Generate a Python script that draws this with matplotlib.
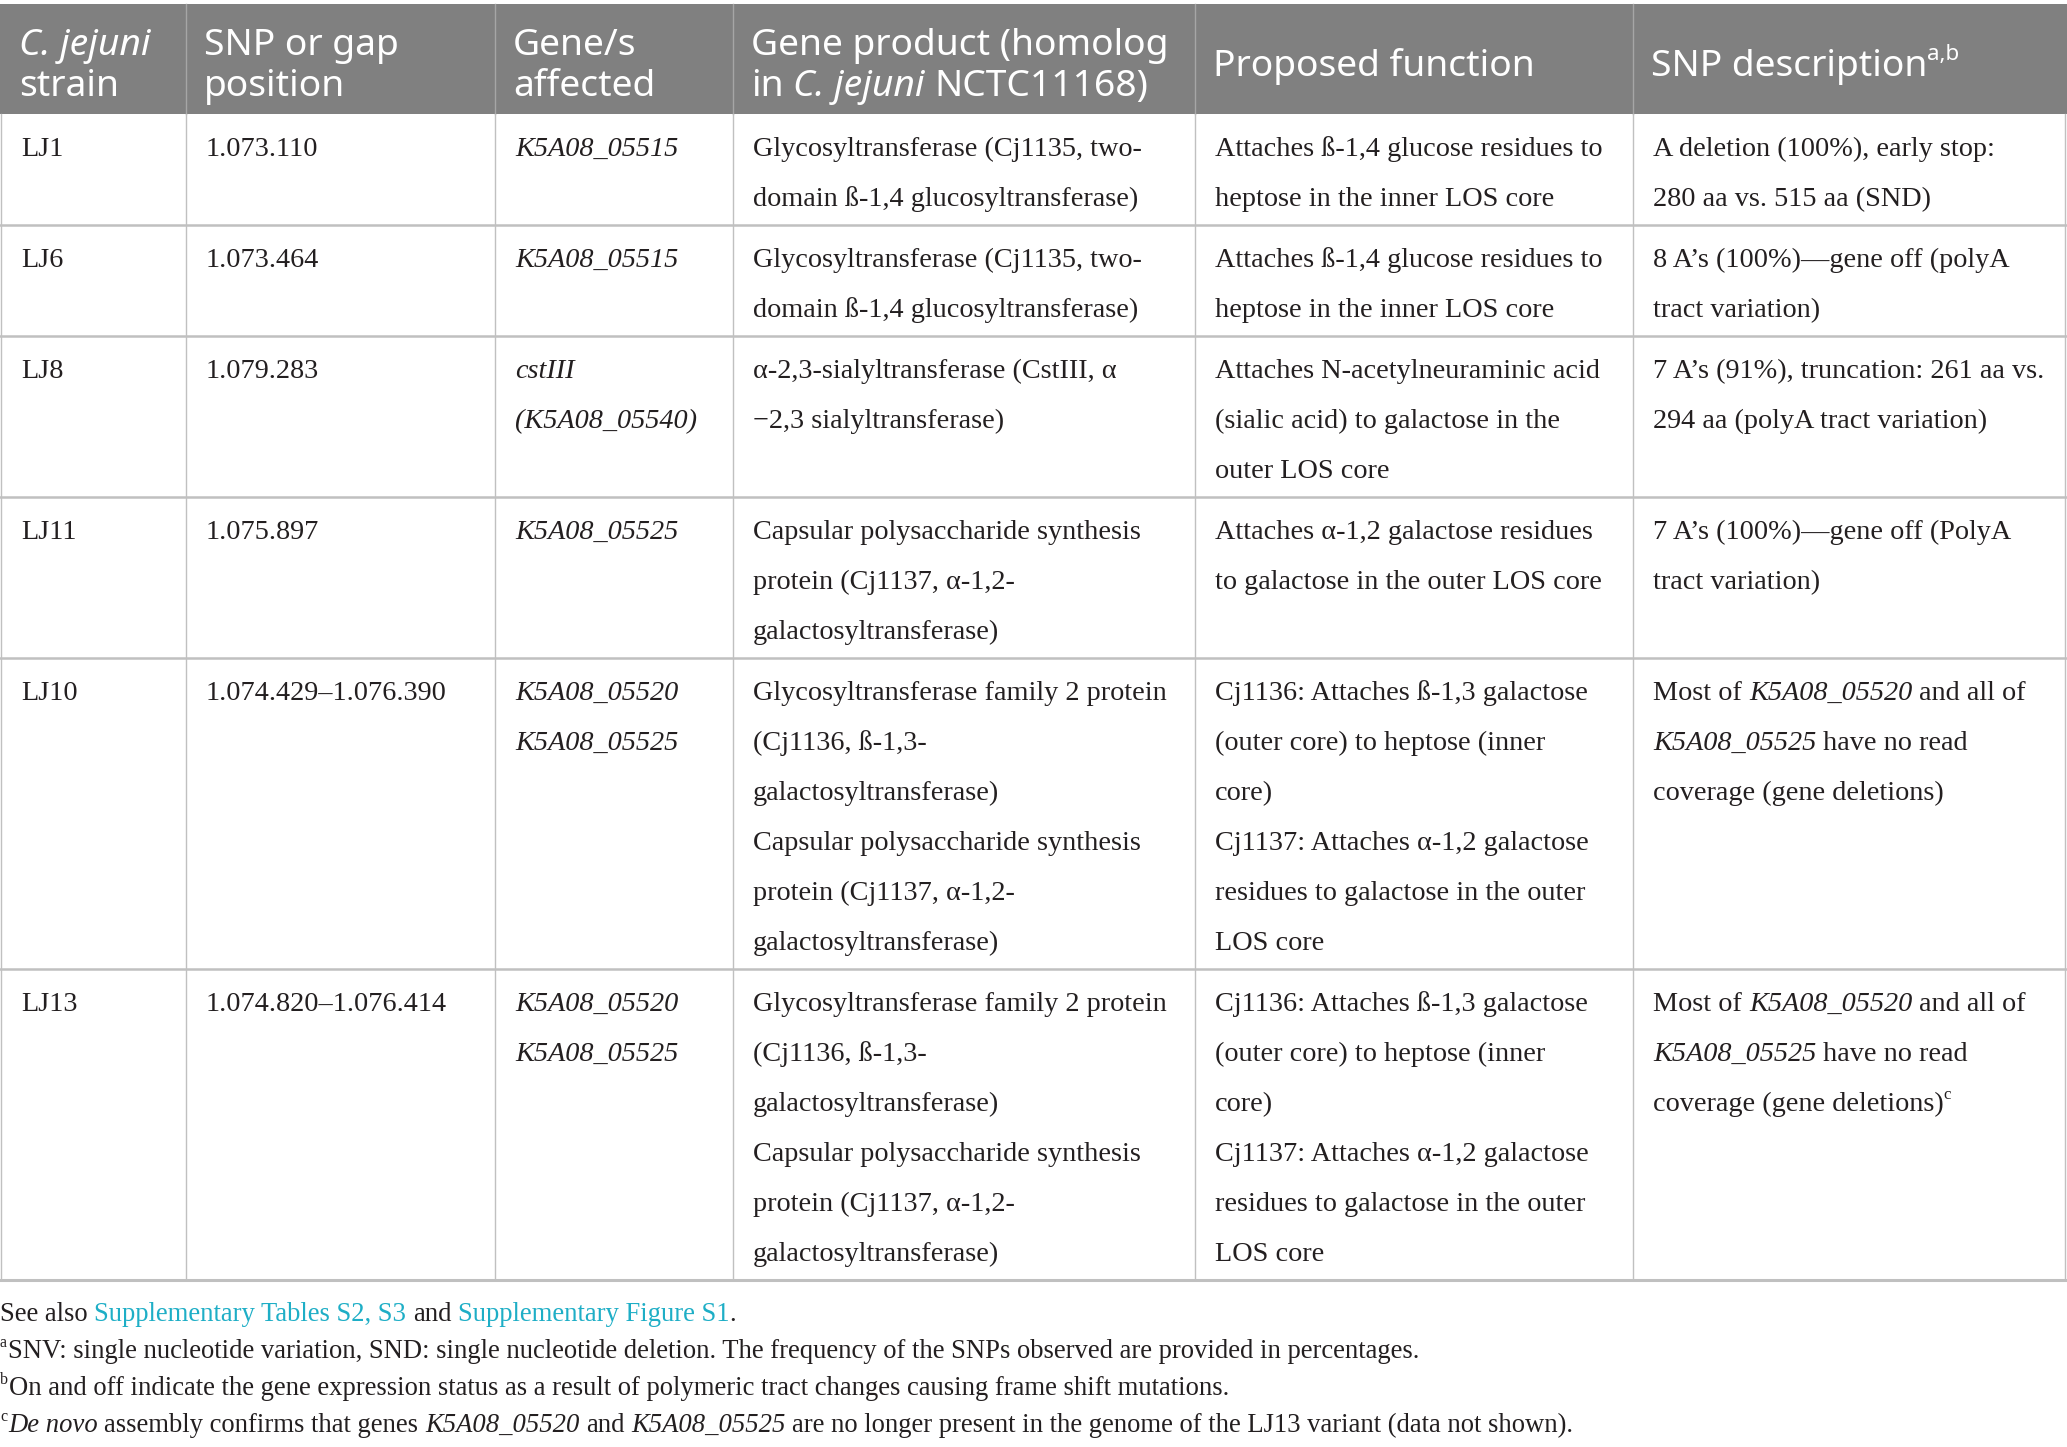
import matplotlib
matplotlib.use("Agg")
import matplotlib.pyplot as plt

# Tabellendaten
headers = [
    [[("C. jejuni", "i")], [("strain", "n")]],
    [[("SNP or gap", "n")], [("position", "n")]],
    [[("Gene/s", "n")], [("affected", "n")]],
    [[("Gene product (homolog", "n")], [("in ", "n"), ("C. jejuni", "i"), (" NCTC11168)", "n")]],
    [[("Proposed function", "n")]],
    [[("SNP description", "n"), ("a,b", "sup")]],
]

strains = ["LJ1", "LJ6", "LJ8", "LJ11", "LJ10", "LJ13"]
positions = ["1.073.110", "1.073.464", "1.079.283", "1.075.897",
             "1.074.429–1.076.390", "1.074.820–1.076.414"]
genes = [["K5A08_05515"], ["K5A08_05515"], ["cstIII", "(K5A08_05540)"],
         ["K5A08_05525"], ["K5A08_05520", "K5A08_05525"],
         ["K5A08_05520", "K5A08_05525"]]
products = [
    ["Glycosyltransferase (Cj1135, two-", "domain ß-1,4 glucosyltransferase)"],
    ["Glycosyltransferase (Cj1135, two-", "domain ß-1,4 glucosyltransferase)"],
    ["α-2,3-sialyltransferase (CstIII, α", "−2,3 sialyltransferase)"],
    ["Capsular polysaccharide synthesis", "protein (Cj1137, α-1,2-", "galactosyltransferase)"],
    ["Glycosyltransferase family 2 protein", "(Cj1136, ß-1,3-", "galactosyltransferase)",
     "Capsular polysaccharide synthesis", "protein (Cj1137, α-1,2-", "galactosyltransferase)"],
    ["Glycosyltransferase family 2 protein", "(Cj1136, ß-1,3-", "galactosyltransferase)",
     "Capsular polysaccharide synthesis", "protein (Cj1137, α-1,2-", "galactosyltransferase)"],
]
functions = [
    ["Attaches ß-1,4 glucose residues to", "heptose in the inner LOS core"],
    ["Attaches ß-1,4 glucose residues to", "heptose in the inner LOS core"],
    ["Attaches N-acetylneuraminic acid", "(sialic acid) to galactose in the", "outer LOS core"],
    ["Attaches α-1,2 galactose residues", "to galactose in the outer LOS core"],
    ["Cj1136: Attaches ß-1,3 galactose", "(outer core) to heptose (inner", "core)",
     "Cj1137: Attaches α-1,2 galactose", "residues to galactose in the outer", "LOS core"],
    ["Cj1136: Attaches ß-1,3 galactose", "(outer core) to heptose (inner", "core)",
     "Cj1137: Attaches α-1,2 galactose", "residues to galactose in the outer", "LOS core"],
]
descriptions = [
    [[("A deletion (100%), early stop:", "n")], [("280 aa vs. 515 aa (SND)", "n")]],
    [[("8 A’s (100%)—gene off (polyA", "n")], [("tract variation)", "n")]],
    [[("7 A’s (91%), truncation: 261 aa vs.", "n")], [("294 aa (polyA tract variation)", "n")]],
    [[("7 A’s (100%)—gene off (PolyA", "n")], [("tract variation)", "n")]],
    [[("Most of ", "n"), ("K5A08_05520", "i"), (" and all of", "n")],
     [("K5A08_05525", "i"), (" have no read", "n")],
     [("coverage (gene deletions)", "n")]],
    [[("Most of ", "n"), ("K5A08_05520", "i"), (" and all of", "n")],
     [("K5A08_05525", "i"), (" have no read", "n")],
     [("coverage (gene deletions)", "n"), ("c", "sup")]],
]
footnotes = [
    [("See also ", "n"), ("Supplementary Tables S2, S3", "link"), (" and ", "n"),
     ("Supplementary Figure S1", "link"), (".", "n")],
    [("a", "sup"), ("SNV: single nucleotide variation, SND: single nucleotide deletion. "
                    "The frequency of the SNPs observed are provided in percentages.", "n")],
    [("b", "sup"), ("On and off indicate the gene expression status as a result of "
                    "polymeric tract changes causing frame shift mutations.", "n")],
    [("c", "sup"), ("De novo", "i"), (" assembly confirms that genes ", "n"), ("K5A08_05520", "i"),
     (" and ", "n"), ("K5A08_05525", "i"),
     (" are no longer present in the genome of the LJ13 variant (data not shown).", "n")],
]

# Layout
W, H = 2067, 1447
col_edges = [1, 186, 495, 733, 1195, 1633, 2065]
pad = 20
head_top, head_bot = 4, 114
line_h = 50
body_font = "Liberation Serif"
head_font = "Noto Sans"
body_size = 20.3
foot_size = 19.2
head_size = 26.8
ink = "#231f20"
link_col = "#1eaec6"
head_bg = "#808080"
grid_col = "#c0c0c0"

fig = plt.figure(figsize=(W / 100, H / 100), dpi=100)
ax = fig.add_axes([0, 0, 1, 1])
ax.set_xlim(0, W)
ax.set_ylim(H, 0)
ax.axis("off")
renderer = fig.canvas.get_renderer()

_space = {}


def space_w(size, family):
    key = (size, family)
    if key not in _space:
        a = ax.text(0, 0, "a a", fontsize=size, family=family)
        b = ax.text(0, 0, "aa", fontsize=size, family=family)
        _space[key] = a.get_window_extent(renderer).width - b.get_window_extent(renderer).width
        a.remove()
        b.remove()
    return _space[key]


def draw_runs(x, y, runs, size, family, color=ink):
    sw = space_w(size, family)
    for text, style in runs:
        core = text.strip(" ")
        x += (len(text) - len(text.lstrip(" "))) * sw
        if core:
            kw = dict(fontsize=size, family=family, color=color, va="baseline", ha="left")
            yy = y
            if style == "i":
                kw["style"] = "italic"
            elif style == "sup":
                kw["fontsize"] = size * 0.6
                yy = y - size * 100 / 72 * 0.42
            elif style == "link":
                kw["color"] = link_col
            t = ax.text(x, yy, core, **kw)
            x += t.get_window_extent(renderer).width + (1 if style == "sup" else 0)
        x += (len(text) - len(text.rstrip(" "))) * sw
    return x


# Kopfzeile
ax.add_patch(plt.Rectangle((0, head_top), W, head_bot - head_top, color=head_bg, lw=0))
for c, cell in enumerate(headers):
    if len(cell) == 2:
        ys = [55, 96]
    else:
        ys = [76]
    for yy, runs in zip(ys, cell):
        draw_runs(col_edges[c] + pad - 2, yy, runs, head_size, head_font, color="white")
for xe in col_edges[1:-1]:
    ax.plot([xe, xe], [head_top, head_bot], color="#a6a6a6", lw=1)

# Zeilen
y0 = head_bot
for r in range(len(strains)):
    cells = [
        [[(strains[r], "n")]],
        [[(positions[r], "n")]],
        [[(g, "i")] for g in genes[r]],
        [[(p, "n")] for p in products[r]],
        [[(f, "n")] for f in functions[r]],
        descriptions[r],
    ]
    n = max(len(c) for c in cells)
    h = line_h * n + 11
    for c, cell in enumerate(cells):
        for i, runs in enumerate(cell):
            draw_runs(col_edges[c] + pad, y0 + 42 + line_h * i, runs, body_size, body_font)
    y0 += h
    ax.plot([0, W], [y0, y0], color=grid_col, lw=1.8 if r < len(strains) - 1 else 2.2)

for xe in col_edges:
    ax.plot([xe, xe], [head_bot, y0], color=grid_col, lw=1)

# Fußnoten
for i, runs in enumerate(footnotes):
    draw_runs(0, 1321 + 37 * i, runs, foot_size, body_font)

fig.savefig("out.png", dpi=100, facecolor="white")
